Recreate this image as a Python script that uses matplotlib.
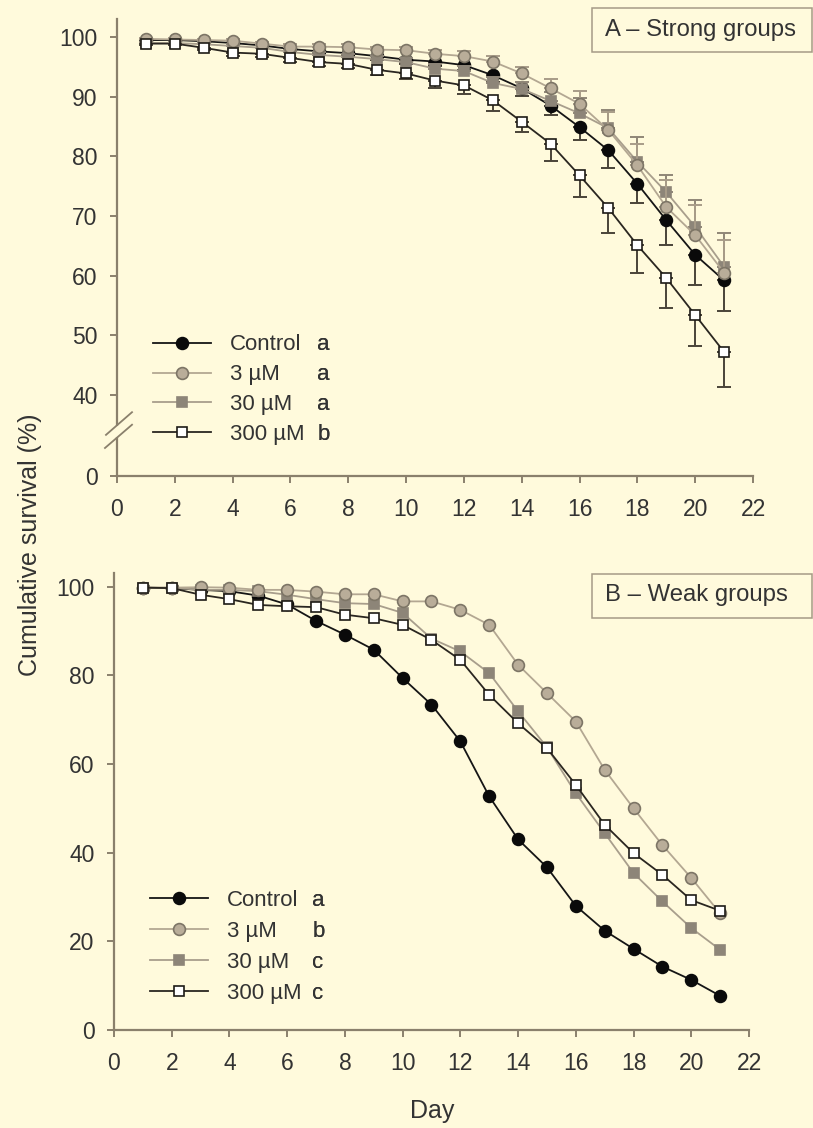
import matplotlib
matplotlib.use("Agg")
import matplotlib.pyplot as plt
from matplotlib.patches import Rectangle
import numpy as np

plt.rcParams['font.family'] = ['Liberation Sans', 'DejaVu Sans']

# ---------------- data ----------------
days = list(range(1, 22))
series_names = ["Control", "3 µM", "30 µM", "300 µM"]
letters_A = ["a", "a", "a", "b"]
letters_B = ["a", "b", "c", "c"]

# Panel A - strong groups (mean cumulative survival, %)
A_control = [99.5, 99.5, 99.3, 99.0, 98.6, 98.0, 97.6, 97.3, 96.8, 96.2, 95.9,
             95.3, 93.6, 91.4, 88.5, 84.9, 81.0, 75.4, 69.3, 63.5, 59.2]
A_3uM = [99.7, 99.6, 99.5, 99.4, 98.9, 98.4, 98.4, 98.3, 97.9, 97.8, 97.2,
         96.8, 95.9, 93.9, 91.4, 88.8, 84.4, 78.5, 71.5, 66.8, 60.5]
A_30uM = [99.0, 99.0, 98.8, 98.5, 98.2, 97.5, 97.0, 96.7, 96.3, 95.8, 94.7,
          94.3, 92.3, 91.3, 89.3, 87.2, 84.7, 79.1, 74.0, 68.2, 61.5]
A_300uM = [98.9, 98.9, 98.2, 97.4, 97.2, 96.5, 95.8, 95.5, 94.5, 93.9, 92.7,
           91.9, 89.4, 85.8, 82.1, 76.8, 71.3, 65.1, 59.6, 53.4, 47.2]

# Panel A standard errors (drawn one-sided)
A_control_se = [0.2, 0.2, 0.3, 0.3, 0.4, 0.4, 0.5, 0.5, 0.6, 0.7, 0.8,
                0.9, 1.1, 1.3, 1.6, 2.2, 3.0, 3.3, 4.2, 5.1, 5.2]
A_3uM_se = [0.2, 0.2, 0.2, 0.3, 0.3, 0.4, 0.4, 0.5, 0.5, 0.6, 0.7,
            0.8, 0.9, 1.1, 1.5, 2.2, 3.0, 3.5, 4.5, 5.0, 5.5]
A_30uM_se = [0.2, 0.2, 0.3, 0.3, 0.4, 0.4, 0.5, 0.5, 0.6, 0.7, 0.8,
             0.9, 1.0, 1.2, 1.5, 2.5, 3.0, 4.1, 2.8, 4.4, 5.6]
A_300uM_se = [0.3, 0.3, 0.4, 0.5, 0.6, 0.6, 0.7, 0.7, 0.9, 0.9, 1.2,
              1.4, 1.8, 1.7, 2.8, 3.6, 4.2, 4.6, 5.0, 5.2, 5.9]

# Panel B - weak groups
B_control = [99.8, 99.7, 99.3, 99.0, 98.0, 96.0, 92.3, 89.2, 85.8, 79.4, 73.4,
             65.1, 52.7, 43.0, 36.7, 28.0, 22.4, 18.3, 14.3, 11.3, 7.7]
B_3uM = [99.8, 99.8, 99.9, 99.8, 99.3, 99.3, 98.9, 98.3, 98.3, 96.7, 96.7,
         94.8, 91.4, 82.4, 76.0, 69.6, 58.7, 50.0, 41.7, 34.3, 26.3]
B_30uM = [99.8, 99.8, 99.3, 99.3, 99.0, 98.2, 97.2, 96.3, 96.1, 94.1, 88.3,
          85.4, 80.5, 71.9, 63.8, 53.4, 44.4, 35.4, 29.0, 23.0, 18.1]
B_300uM = [99.8, 99.7, 98.2, 97.2, 95.9, 95.6, 95.4, 93.7, 92.9, 91.4, 88.0,
           83.5, 75.6, 69.2, 63.6, 55.3, 46.3, 39.9, 35.0, 29.3, 26.9]

x_ticks = [0, 2, 4, 6, 8, 10, 12, 14, 16, 18, 20, 22]
A_yticks = [40, 50, 60, 70, 80, 90, 100]
B_yticks = [0, 20, 40, 60, 80, 100]

# ---------------- style ----------------
BG = "#FFFADC"
SPINE = "#8a806c"
TXT = "#333333"
styles = [
    dict(color="#151515", marker="o", mfc="#0a0a0a", mec="#0a0a0a", ms=8.5, ecol="#4a4438"),
    dict(color="#b3a792", marker="o", mfc="#b9ad99", mec="#7d7566", ms=8.5, ecol="#a89c88"),
    dict(color="#a89e8c", marker="s", mfc="#8d8578", mec="#8d8578", ms=7.5, ecol="#8f8677"),
    dict(color="#2a2620", marker="s", mfc="#ffffff", mec="#1e1b16", ms=7.8, ecol="#4a4438"),
]
draw_order = [0, 2, 1, 3]

fig = plt.figure(figsize=(8.13, 11.28), dpi=100, facecolor=BG)

axA = fig.add_axes([0.1439, 0.578, 0.7823, 0.405])
axB = fig.add_axes([0.1402, 0.0869, 0.7811, 0.4051])

A_ZERO = 26.4  # position of the broken-axis "0"


def style_axes(ax):
    ax.set_facecolor(BG)
    for s in ["top", "right"]:
        ax.spines[s].set_visible(False)
    for s in ["left", "bottom"]:
        ax.spines[s].set_color(SPINE)
        ax.spines[s].set_linewidth(1.6)
    ax.tick_params(axis="both", direction="out", length=5, width=1.4,
                   color=SPINE, labelcolor=TXT, labelsize=16.5)
    ax.tick_params(axis="x", pad=11)
    ax.tick_params(axis="y", pad=9)
    ax.set_xlim(0, 22)
    ax.set_xticks(x_ticks)


def draw_series(ax, data, ses=None, sides=None):
    lines = []
    for i in draw_order:
        st = styles[i]
        y = np.array(data[i])
        if ses is not None:
            se = np.array(ses[i])
            lower = se if sides[i] == "down" else np.zeros_like(se)
            upper = se if sides[i] == "up" else np.zeros_like(se)
            ax.errorbar(days, y, yerr=[lower, upper], fmt="none",
                        ecolor=st["ecol"], elinewidth=1.4, capsize=5,
                        capthick=1.4, zorder=2 + draw_order.index(i) * 0.5)
        ln, = ax.plot(days, y, color=st["color"], lw=1.3, marker=st["marker"],
                      mfc=st["mfc"], mec=st["mec"], mew=1.2, ms=st["ms"],
                      zorder=2.2 + draw_order.index(i) * 0.5, clip_on=False)
        lines.append((i, ln))
    lines.sort(key=lambda t: t[0])
    return [l for _, l in lines]


def add_legend(ax, handles, letters, anchor, letter_x, spacing):
    leg = ax.legend(handles, series_names, loc="upper left",
                    bbox_to_anchor=anchor, frameon=False, fontsize=16,
                    handlelength=2.6, handletextpad=0.85, borderpad=0,
                    borderaxespad=0, labelspacing=spacing, labelcolor=TXT)
    ax.add_artist(leg)
    dummies = [plt.Line2D([], [], lw=0, marker=None) for _ in letters]
    leg2 = ax.legend(dummies, letters, loc="upper left",
                     bbox_to_anchor=(letter_x, anchor[1]), frameon=False,
                     fontsize=16, handlelength=0, handletextpad=0,
                     borderpad=0, borderaxespad=0, labelspacing=spacing,
                     labelcolor=TXT)
    ax.add_artist(leg2)


# ---------------- Panel A ----------------
style_axes(axA)
axA.set_ylim(A_ZERO, 103.0)
axA.set_yticks([A_ZERO] + A_yticks)
axA.set_yticklabels(["0"] + [str(v) for v in A_yticks])
hA = draw_series(axA, [A_control, A_3uM, A_30uM, A_300uM],
                 [A_control_se, A_3uM_se, A_30uM_se, A_300uM_se],
                 ["down", "up", "up", "down"])
add_legend(axA, hA, letters_A, (0.0566, 0.310), 0.315, 0.40)

# axis break marks
trA = axA.get_yaxis_transform()
axA.add_patch(Rectangle((-0.012, 32.9), 0.024, 1.9, transform=trA,
                        facecolor=BG, edgecolor="none", clip_on=False, zorder=5))
axA.plot([-0.0173, 0.0236], [33.3, 37.1], transform=trA, color=SPINE,
         lw=1.3, clip_on=False, zorder=6)
axA.plot([-0.0189, 0.0236], [31.1, 35.0], transform=trA, color=SPINE,
         lw=1.3, clip_on=False, zorder=6)

# ---------------- Panel B ----------------
style_axes(axB)
axB.set_ylim(0, 103.1)
axB.set_yticks(B_yticks)
hB = draw_series(axB, [B_control, B_3uM, B_30uM, B_300uM])
add_legend(axB, hB, letters_B, (0.0567, 0.307), 0.312, 0.45)

# ---------------- panel title boxes ----------------
for (ybot, ytxt, label) in [(0.9539, 0.9734, "A – Strong groups"),
                            (0.4521, 0.4725, "B – Weak groups")]:
    fig.patches.append(Rectangle((0.7282, ybot), 0.2706, 0.039,
                                 transform=fig.transFigure, facecolor="none",
                                 edgecolor="#a59a86", lw=1.1))
    fig.text(0.744, ytxt, label, fontsize=17.2, color=TXT, va="center", ha="left")

# ---------------- axis labels ----------------
fig.text(30 / 813, 1 - 545 / 1128, "Cumulative survival (%)", rotation=90,
         fontsize=18, color=TXT, ha="center", va="center")
fig.text(432 / 813, 1 - 1111 / 1128, "Day", fontsize=18, color=TXT,
         ha="center", va="center")

fig.savefig("out.png", dpi=100, facecolor=BG)
